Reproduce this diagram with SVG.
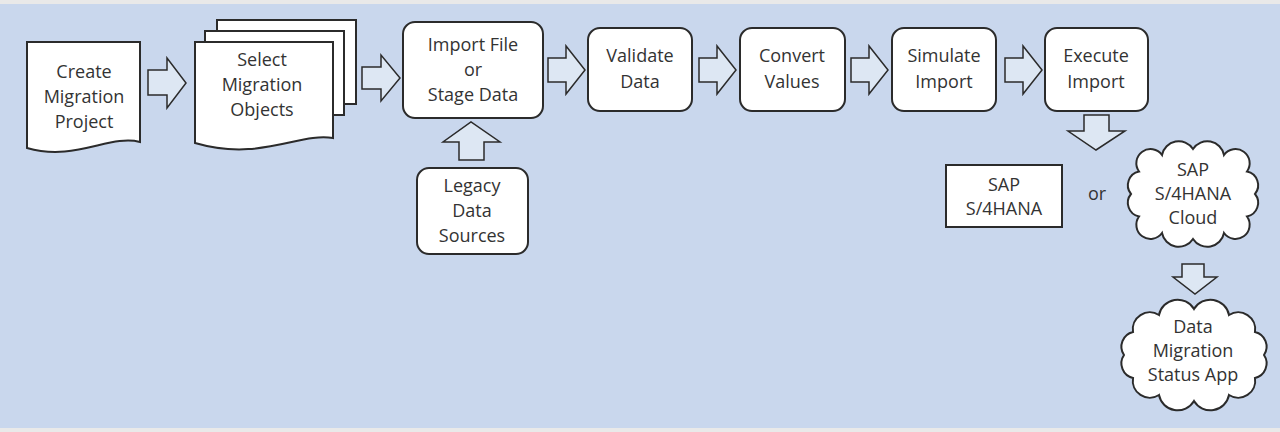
<svg xmlns="http://www.w3.org/2000/svg" width="1280" height="432" viewBox="0 0 1280 432">
<style>
.n{fill:#fff;stroke:#2b2b2b;stroke-width:2}
.a{fill:#dde7f3;stroke:#2b2b2b;stroke-width:1.5;stroke-linejoin:miter}
text{font-family:"Open Sans","Noto Sans",sans-serif;font-size:18px;fill:#333;text-anchor:middle}
</style>
<rect x="0" y="0" width="1280" height="432" fill="#e9e9e9"/>
<rect x="0" y="4" width="1280" height="424" fill="#c9d7ed"/>
<g id="create"><path class="n" d="M27,42H140V142C110,134 75,162 27,148Z"/>
<text x="84" y="78">Create</text><text x="84" y="103">Migration</text><text x="84" y="128">Project</text></g>
<g id="select">
<rect class="n" x="217" y="20" width="139" height="84"/>
<rect class="n" x="205" y="31" width="139" height="84"/>
<path class="n" d="M195,42H333V138C300,132 260,162 195,143Z"/>
<text x="262" y="66">Select</text><text x="262" y="91">Migration</text><text x="262" y="116">Objects</text></g>
<g id="import"><rect class="n" x="403" y="22" width="140" height="96" rx="12"/>
<text x="473" y="51">Import File</text><text x="473" y="76">or</text><text x="473" y="101">Stage Data</text></g>
<g id="validate"><rect class="n" x="588" y="28" width="104" height="83" rx="12"/>
<text x="640" y="62">Validate</text><text x="640" y="88">Data</text></g>
<g id="convert"><rect class="n" x="740" y="28" width="105" height="83" rx="12"/>
<text x="792" y="62">Convert</text><text x="792" y="88">Values</text></g>
<g id="simulate"><rect class="n" x="892" y="28" width="104" height="83" rx="12"/>
<text x="944" y="62">Simulate</text><text x="944" y="88">Import</text></g>
<g id="execute"><rect class="n" x="1045" y="28" width="103" height="83" rx="12"/>
<text x="1096" y="62">Execute</text><text x="1096" y="88">Import</text></g>
<g id="legacy"><rect class="n" x="417" y="168" width="111" height="86" rx="12"/>
<text x="472" y="192">Legacy</text><text x="472" y="217">Data</text><text x="472" y="242">Sources</text></g>
<g id="s4"><rect class="n" x="946" y="165" width="116" height="62"/>
<text x="1004" y="191">SAP</text><text x="1004" y="215">S/4HANA</text></g>
<g id="or"><text x="1097" y="200">or</text></g>
<g id="cloud"><path class="n" d="M1255,194A14,14 0 0 1 1247,216.5A14,14 0 0 1 1224,233A17,17 0 0 1 1193,239A17,17 0 0 1 1162,233A14,14 0 0 1 1139,216.5A14,14 0 0 1 1131,194A14,14 0 0 1 1139,171.5A14,14 0 0 1 1162,155A17,17 0 0 1 1193,149A17,17 0 0 1 1224,155A14,14 0 0 1 1247,171.5A14,14 0 0 1 1255,194Z"/>
<text x="1193" y="176">SAP</text><text x="1193" y="200">S/4HANA</text><text x="1193" y="224">Cloud</text></g>
<g id="status"><path class="n" d="M1264,355A15,15 0 0 1 1255,378A17,17 0 0 1 1229,395A19,19 0 0 1 1194,401A19,19 0 0 1 1159,395A17,17 0 0 1 1133,378A15,15 0 0 1 1124,355A15,15 0 0 1 1133,332A17,17 0 0 1 1159,315A19,19 0 0 1 1194,309A19,19 0 0 1 1229,315A17,17 0 0 1 1255,332A15,15 0 0 1 1264,355Z"/>
<text x="1193" y="333">Data</text><text x="1193" y="357">Migration</text><text x="1193" y="381">Status App</text></g>
<g id="connectors">
<polygon class="a" points="148,70 167,70 167,58 186,83 167,108 167,95 148,95"/>
<polygon class="a" points="362,67 381,67 381,55 400,78 381,101 381,89 362,89"/>
<polygon class="a" points="548,58 566,58 566,46 585,70 566,94 566,82 548,82"/>
<polygon class="a" points="699,58 717,58 717,46 736,70 717,94 717,82 699,82"/>
<polygon class="a" points="851,58 869,58 869,46 888,70 869,94 869,82 851,82"/>
<polygon class="a" points="1005,58 1023,58 1023,46 1042,70 1023,94 1023,82 1005,82"/>
<polygon class="a" points="459,160 459,142 443,142 471,122 500,142 484,142 484,160"/>
<polygon class="a" points="1084,115 1109,115 1109,131 1125,131 1096,150 1068,131 1084,131"/>
<polygon class="a" points="1182,264 1204,264 1204,277 1217,277 1195,294 1173,277 1182,277"/>
</g>
</svg>
